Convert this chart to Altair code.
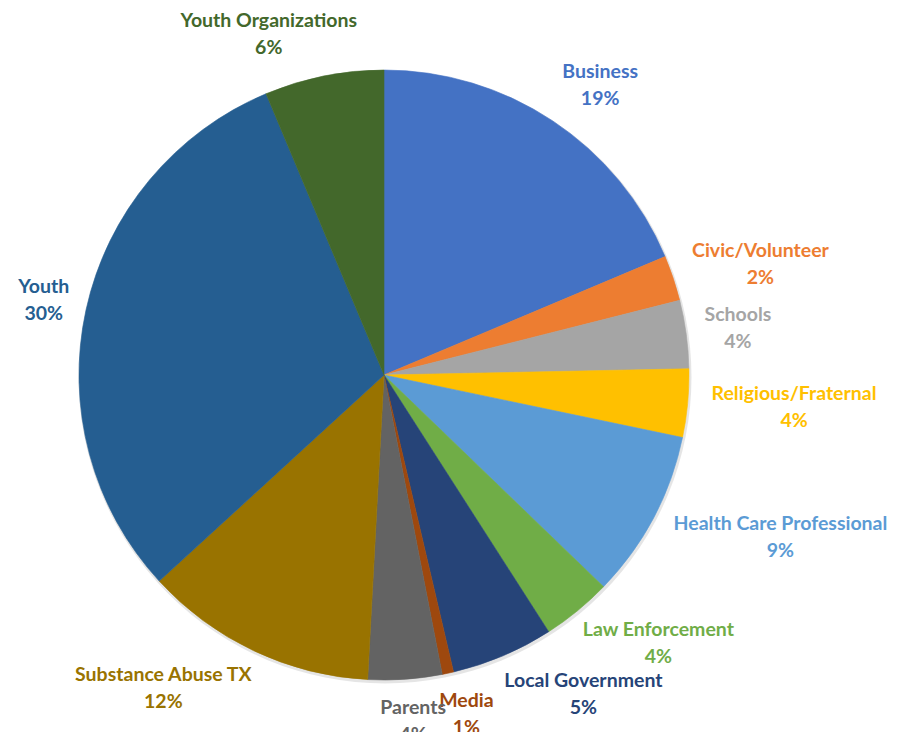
import math
import altair as alt
import pandas as pd

# ---- data ----
categories = ["Business", "Civic/Volunteer", "Schools", "Religious/Fraternal",
              "Health Care Professional", "Law Enforcement", "Local Government",
              "Media", "Parents", "Substance Abuse TX", "Youth", "Youth Organizations"]
values = [18.6, 2.4, 3.6, 3.6, 8.9, 3.7, 5.4, 0.6, 3.9, 12.3, 30.4, 6.3]
pct_labels = ["19%", "2%", "4%", "4%", "9%", "4%", "5%", "1%", "4%", "12%", "30%", "6%"]
colors = ["#4472C4", "#ED7D31", "#A5A5A5", "#FFC000", "#5B9BD5", "#70AD47",
          "#264478", "#9E480E", "#636363", "#997300", "#255E91", "#43682B"]

# ---- layout ----
W, H = 884, 724
CX, CY, R = 376, 367, 305
GAP = 20
CHAR_W = 9.1
HALF_H = 22
LINE_H = 27
KX, KY = 3.0, 1.0

total = sum(values)
rows = []
cum = 0.0
for i, (c, v, p) in enumerate(zip(categories, values, pct_labels)):
    mid = (cum + v / 2) / total * 2 * math.pi
    cum += v
    s, co = math.sin(mid), math.cos(mid)
    px = CX + (R + GAP) * s
    py = CY - (R + GAP) * co
    hw = max(len(c), len(p)) * CHAR_W / 2
    lx = px + hw * max(-1, min(1, KX * s))
    ly = py + HALF_H * max(-1, min(1, -KY * co))
    # Vega centres the first line on y with baseline "middle": shift the block up
    rows.append({"idx": i, "category": c, "value": v,
                 "label": c + "\n" + p, "lx": lx, "ly": ly - LINE_H / 2})
df = pd.DataFrame(rows)

color_scale = alt.Scale(domain=categories, range=colors)

shadow = alt.Chart(pd.DataFrame({"s": [1]})).mark_arc(
    theta=0, theta2=2 * math.pi, radius=R + 1.5, color="#000000", opacity=0.10
).encode(x=alt.value(CX + 1), y=alt.value(CY + 2))

pie = alt.Chart(df).mark_arc(radius=R, strokeWidth=0.6).encode(
    theta=alt.Theta("value:Q", stack=True),
    order=alt.Order("idx:Q", sort="ascending"),
    color=alt.Color("category:N", scale=color_scale, legend=None),
    stroke=alt.Stroke("category:N", scale=color_scale, legend=None),
    x=alt.value(CX),
    y=alt.value(CY),
)

labels = alt.Chart(df).mark_text(
    font="Lato", fontSize=19.5, fontWeight="bold", lineBreak="\n",
    lineHeight=LINE_H, align="center", baseline="middle",
).encode(
    x=alt.X("lx:Q", scale=None, axis=None),
    y=alt.Y("ly:Q", scale=None, axis=None),
    text="label:N",
    color=alt.Color("category:N", scale=color_scale, legend=None),
)

chart = alt.layer(shadow, pie, labels).properties(
    width=W, height=H, padding=0,
    autosize=alt.AutoSizeParams(type="none"),
).configure_view(stroke=None)

chart.save("out.html", embed_options={"renderer": "svg", "actions": False})
